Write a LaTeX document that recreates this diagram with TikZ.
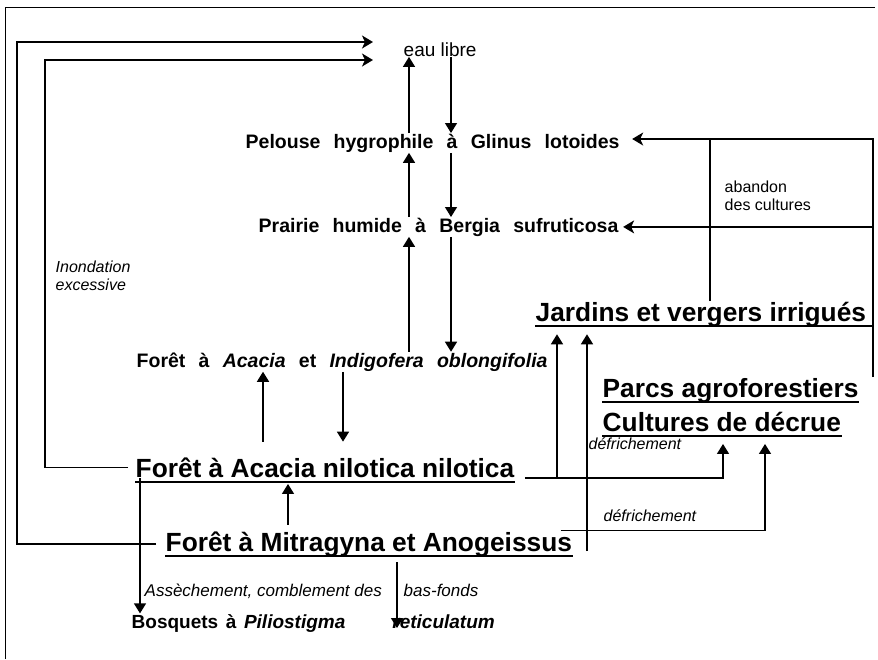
\documentclass[tikz,border=0pt]{standalone}
\usepackage{fontspec}
\setmainfont{Liberation Sans}
\usetikzlibrary{arrows.meta,calc}
\newcommand{\WideWords}{\spaceskip=0.68em\relax}
\newcommand{\MidWords}{\spaceskip=0.4em\relax}

\begin{document}
\begin{tikzpicture}[x=1pt,y=-1pt,line width=1.4pt,
  arr/.style={-{Triangle[width=12pt,length=10pt]}},
  larr/.style={-{Stealth[width=13pt,length=11pt,inset=3pt]}},
  veg/.style={inner sep=0pt,anchor=base west,font=\bfseries\fontsize{19.5}{22}\selectfont\WideWords},
  big/.style={inner sep=0pt,anchor=base west,font=\bfseries\fontsize{26.3}{30}\selectfont},
  note/.style={inner sep=0pt,font=\itshape\fontsize{16}{18}\selectfont,align=left},
  uline/.style={line width=1.8pt}]
\useasboundingbox (0,0) rectangle (878,659);
\draw[line width=1pt] (5,659) -- (5,7) -- (875,7);
% vegetation stages
\node[inner sep=0pt,anchor=base west,font=\fontsize{19}{22}\selectfont] (eau) at (403,56) {eau libre};
\node[veg] (pelouse) at (245,148) {Pelouse hygrophile à Glinus lotoides};
\node[veg] (prairie) at (258,232) {Prairie humide à Bergia sufruticosa};
\node[veg] (indigo) at (136,367) {Forêt à \textit{Acacia} et \textit{Indigofera} \textit{oblongifolia}};
\node[big] (nilotica) at (135,477) {Forêt à Acacia nilotica nilotica};
\node[big] (mitra) at (165,551) {Forêt à Mitragyna et Anogeissus};
\node[veg,font=\bfseries\fontsize{19}{22}\selectfont\MidWords] (bosquets) at (131,628) {Bosquets à \textit{Piliostigma}\hspace{47pt}\textit{reticulatum}};
\node[big] (jardins) at (535,321) {Jardins et vergers irrigués};
\node[big] (parcs) at (602,397) {Parcs agroforestiers};
\node[big] (cultures) at (602,431) {Cultures de décrue};
% labels
\node[note,anchor=west] (inond) at (55,276) {Inondation\\excessive};
\node[note,anchor=west] (aband) at (724,196) {\upshape abandon\\\upshape des cultures};
\node[note,anchor=base west,font=\itshape\fontsize{17}{19}\selectfont] (assech) at (144,596) {Assèchement, comblement des};
\node[note,anchor=base west,font=\itshape\fontsize{17}{19}\selectfont] (basf) at (403,596) {bas-fonds};
\node[note,anchor=base west] (defr1) at (588,449) {défrichement};
\node[note,anchor=base west] (defr2) at (603,521) {défrichement};
% underlines
\foreach \n in {nilotica,mitra,parcs,cultures} {
  \draw[uline] ([yshift=-5pt]\n.base west) -- ([yshift=-5pt]\n.base east);
}
% columns
\coordinate (up) at (409,0);
\coordinate (down) at (451,0);
\coordinate (loopA) at (17,42);
\coordinate (loopB) at (45,60);
\coordinate (tipA) at (373,42);
\coordinate (tipB) at (373,60);
\coordinate (abtop) at (873,139);
\coordinate (jul) at ([yshift=-5pt]jardins.base west);
\draw[uline] (jul) -- (jul -| abtop);
% succession up and down
\foreach \lo/\hi in {pelouse/eau,prairie/pelouse,indigo/prairie} {
  \draw[arr] (up |- \lo.north) -- (up |- \hi.south);
  \draw[arr] (down |- \hi.south) -- (down |- \lo.north);
}
\draw[arr,shorten <=15pt] (263,0 |- nilotica.north) -- (263,0 |- indigo.south);
\draw[arr,shorten >=15pt] (343,0 |- indigo.south) -- (343,0 |- nilotica.north);
\draw[arr,shorten <=6pt,shorten >=6pt] (288,0 |- mitra.north) -- (288,0 |- nilotica.south);
% flooding loops
\draw[larr,shorten <=9pt] (mitra.west) -| (loopA) -- (tipA);
\draw[larr,shorten <=7pt] (nilotica.west) -| (loopB) -- (tipB);
% drying
\draw[arr] (140,0 |- nilotica.south) -- (140,0 |- bosquets.north);
\draw[arr,shorten <=5pt] (397,0 |- mitra.south) -- (397,0 |- bosquets.base);
% clearing
\coordinate (nilR) at ([xshift=10pt,yshift=-1pt]nilotica.base east);
\coordinate (mitR) at ([xshift=-12pt]mitra.north east);
\draw[arr,shorten >=12pt] (nilR) -| (723,0 |- cultures.south);
\draw[arr,shorten >=12pt] (mitR) -| (765,0 |- cultures.south);
\draw[arr,shorten >=7pt] (557,0 |- nilR) -- (557,0 |- jardins.south);
\draw[arr,shorten >=7pt] (587,0 |- mitra.base) -- (587,0 |- jardins.south);
% abandonment
\draw (710,0 |- jardins.north) -- (710,0 |- abtop);
\draw[larr,shorten >=12pt] (abtop |- parcs.north) -- (abtop) -- (abtop -| pelouse.east);
\draw[larr,shorten >=4pt] (abtop |- prairie.east) -- (prairie.east);
\end{tikzpicture}
\end{document}
